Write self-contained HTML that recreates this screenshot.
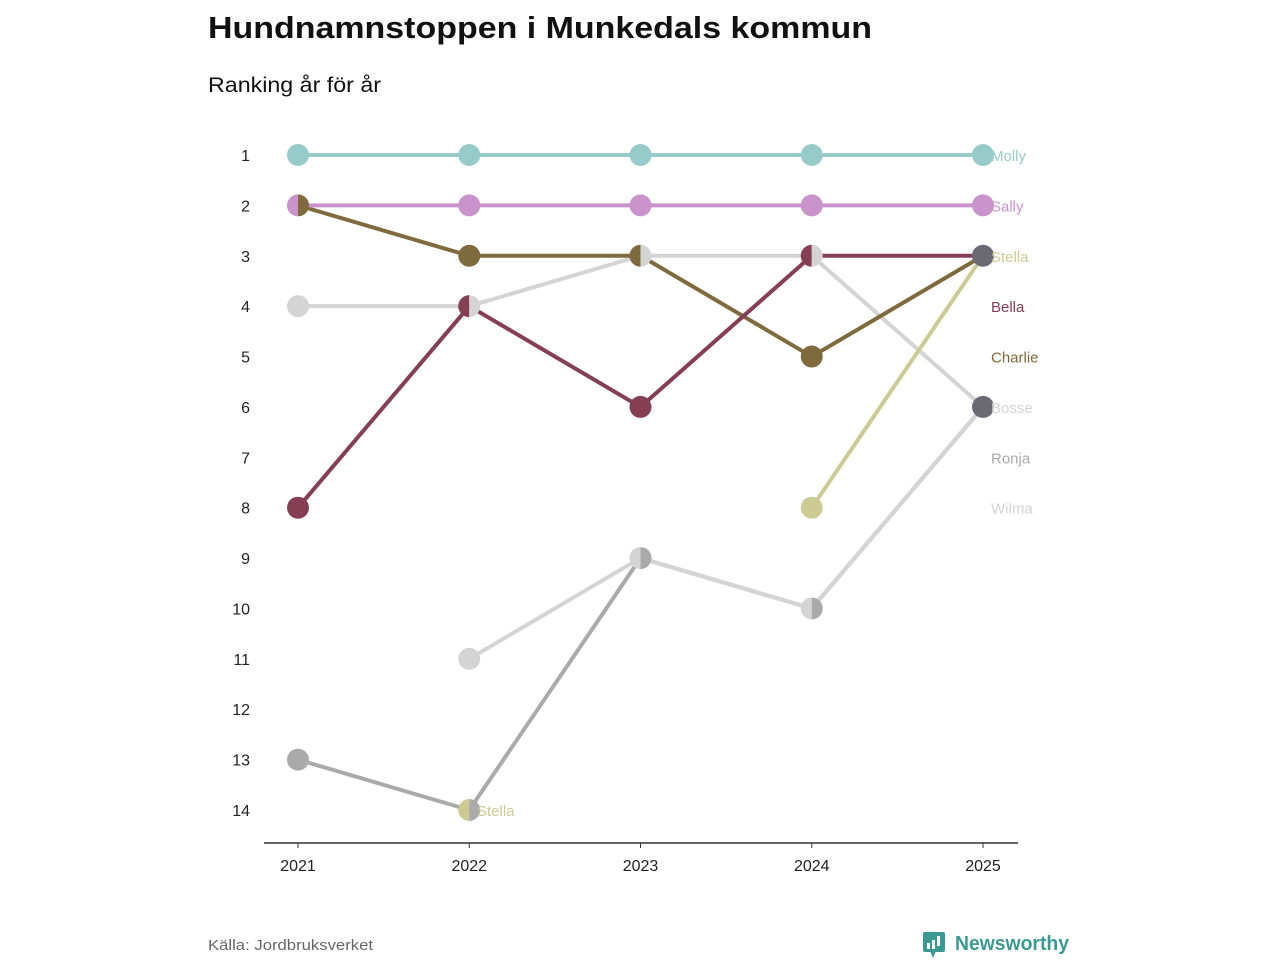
<!DOCTYPE html>
<html><head><meta charset="utf-8"><style>
body{margin:0;background:#fff;font-family:"Liberation Sans",sans-serif;}
svg text{font-family:"Liberation Sans",sans-serif;}
</style></head><body>
<svg width="1280" height="960">
<text x="208" y="38" font-size="31" font-weight="bold" fill="#111" textLength="664" lengthAdjust="spacingAndGlyphs">Hundnamnstoppen i Munkedals kommun</text>
<text x="208" y="92" font-size="21" fill="#111" textLength="173" lengthAdjust="spacingAndGlyphs">Ranking år för år</text>
<g id="plot"></g>
<text x="208" y="950" font-size="15" fill="#666" textLength="165" lengthAdjust="spacingAndGlyphs">Källa: Jordbruksverket</text>
<g>
<rect x="923" y="932" width="22" height="20" rx="2" fill="#3a9a92"/>
<polygon points="930,951 936,951 933,958" fill="#3a9a92"/>
<rect x="927" y="943" width="3" height="6" fill="#fff"/><rect x="932" y="940" width="3" height="9" fill="#fff"/><rect x="937" y="936" width="3" height="10" fill="#fff"/>
<text x="955" y="950" font-size="20" font-weight="bold" fill="#3a9a92" textLength="114" lengthAdjust="spacingAndGlyphs">Newsworthy</text>
</g>
</svg>
<script>
const years=[2021,2022,2023,2024,2025];
const names=["Molly","Sally","Bella","Charlie","Stella","Wilma","Bosse","Ronja"];
const colors={Molly:"#97cbc9",Sally:"#c994cc",Bella:"#853f55",Charlie:"#7f6a3d",Stella:"#cccb94",Wilma:"#d4d4d4",Bosse:"#d4d4d4",Ronja:"#aaaaaa"};
const molly=[1,1,1,1,1];
const sally=[2,2,2,2,2];
const bella=[8,4,6,3,3];
const charlie=[2,3,3,5,3];
const stella=[null,14,null,8,3];
const wilma=[null,11,9,10,6];
const bosse=[4,4,3,3,6];
const ronja=[13,14,9,10,6];
const ranks=[1,2,3,4,5,6,7,8,9,10,11,12,13,14];
const labelOrder=["Molly","Sally","Stella","Bella","Charlie","Bosse","Ronja","Wilma"];
const data={Molly:molly,Sally:sally,Bella:bella,Charlie:charlie,Stella:stella,Wilma:wilma,Bosse:bosse,Ronja:ronja};
const NS="http://www.w3.org/2000/svg";
const g=document.getElementById('plot');
const x=i=>298+(983-298)*i/(years.length-1);
const y=r=>155+(810-155)*(r-1)/13;
function mk(t,a){const e=document.createElementNS(NS,t);for(const k in a)e.setAttribute(k,a[k]);g.appendChild(e);return e;}
ranks.forEach(r=>{const t=mk('text',{x:250,y:y(r)+6,'font-size':16,fill:'#222','text-anchor':'end'});t.textContent=r;

});
const ax=mk('line',{x1:264,x2:1018,y1:843,y2:843,stroke:'#333','stroke-width':1.5});


years.forEach((yr,i)=>{mk('line',{x1:x(i),x2:x(i),y1:843,y2:848,stroke:'#333'});
const t=mk('text',{x:x(i),y:871,'font-size':16,fill:'#222','text-anchor':'middle'});t.textContent=yr;

});
["Ronja","Bosse","Wilma","Stella","Charlie","Bella","Sally","Molly"].forEach(n=>{
const v=data[n];for(let i=0;i<v.length-1;i++){if(v[i]==null||v[i+1]==null)continue;
const l=mk('line',{x1:x(i),y1:y(v[i]),x2:x(i+1),y2:y(v[i+1]),stroke:colors[n],'stroke-width':4});

}});
years.forEach((yr,i)=>{const grp={};names.forEach(n=>{const r=data[n][i];if(r!=null)(grp[r]=grp[r]||[]).push(n);});
for(const r in grp){const s=grp[r],cx=x(i),cy=y(+r),R=11;let e;
if(s.length==1){e=mk('circle',{cx:cx,cy:cy,r:R,fill:colors[s[0]]});}
else if(s.length==2){mk('path',{d:`M${cx},${cy-R}A${R},${R} 0 0 0 ${cx},${cy+R}Z`,fill:colors[s[0]]});
e=mk('path',{d:`M${cx},${cy-R}A${R},${R} 0 0 1 ${cx},${cy+R}Z`,fill:colors[s[1]]});}
else{e=mk('circle',{cx:cx,cy:cy,r:R,fill:'#6b6a73'});}

}});
labelOrder.forEach((n,k)=>{const t=mk('text',{x:991,y:y(k+1)+6,'font-size':15,fill:colors[n]});t.textContent=n;

});
const st=mk('text',{x:477,y:y(14)+6,'font-size':15,fill:colors.Stella});st.textContent="Stella";


</script>
</body></html>
